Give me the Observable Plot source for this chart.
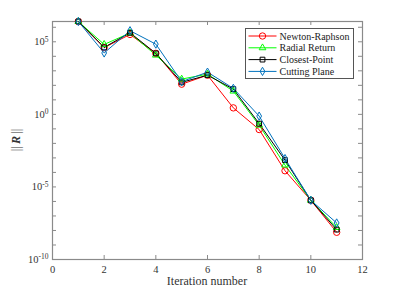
<!DOCTYPE html>
<html><head><meta charset="utf-8">
<script src="https://cdn.jsdelivr.net/npm/d3@7"></script>
<script src="https://cdn.jsdelivr.net/npm/@observablehq/plot@0.6"></script>
<style>body{margin:0;background:#fff;} #chart svg{display:block;}</style>
</head><body><div id="chart"></div>
<script>
const iterations = [1, 2, 3, 4, 5, 6, 7, 8, 9, 10, 11];
const newtonRaphson = [2.5e6, 4.0e4, 3.2e5, 1.6e4, 1.2e2, 5.0e2, 2.8, 9.0e-2, 1.3e-4, 1.2e-6, 7.5e-9];
const radialReturn  = [2.5e6, 6.6e4, 4.0e5, 1.2e4, 2.7e2, 5.9e2, 40, 1.8e-1, 3.2e-4, 1.2e-6, 1.6e-8];
const closestPoint  = [2.5e6, 4.1e4, 4.2e5, 1.6e4, 1.6e2, 5.0e2, 55, 2.3e-1, 7.0e-4, 1.2e-6, 1.15e-8];
const cuttingPlane  = [2.5e6, 1.7e4, 5.8e5, 6.9e4, 1.8e2, 8.1e2, 62, 7.6e-1, 9.0e-4, 1.2e-6, 3.3e-8];

const seriesNames = ["Newton-Raphson", "Radial Return", "Closest-Point", "Cutting Plane"];
const seriesValues = [newtonRaphson, radialReturn, closestPoint, cuttingPlane];
const seriesColors = ["#ff0000", "#00ff00", "#000000", "#0072bd"];
const seriesSymbols = ["circle", "triangle", "square", "diamond"];
const seriesRadius = [3.2, 2.5, 2.7, 2.5];

const xTicks = [0, 2, 4, 6, 8, 10, 12];
const yMajorExponents = [-10, -5, 0, 5];
const yMinorExponents = [-10, -9, -8, -7, -6, -5, -4, -3, -2, -1, 0, 1, 2, 3, 4, 5, 6];
const xDomain = [0, 12];
const yDomain = [1e-10, 2.5e6];

const W = 399, H = 291, mL = 52, mR = 37, mT = 21, mB = 32;
const pw = W - mL - mR, ph = H - mT - mB;
const axisColor = "#8a8a8a";
const FONT = "'Liberation Serif', 'Times New Roman', serif";

const rows = [];
seriesNames.forEach((name, s) => {
  iterations.forEach((it, i) => rows.push({series: name, s, x: it, y: seriesValues[s][i]}));
});

const yMajor = yMajorExponents.map(e => ({v: Math.pow(10, e), e}));
const yMinor = yMinorExponents.map(e => Math.pow(10, e));

const marks = [
  Plot.frame({stroke: axisColor, strokeWidth: 1.2}),
  Plot.ruleX(xTicks, {x: d => d, insetTop: ph - 4, stroke: axisColor}),
  Plot.ruleX(xTicks, {x: d => d, insetBottom: ph - 4, stroke: axisColor}),
  Plot.ruleY(yMinor, {y: d => d, insetRight: pw - 4, stroke: axisColor}),
  Plot.ruleY(yMinor, {y: d => d, insetLeft: pw - 4, stroke: axisColor}),
  Plot.axisX({ticks: xTicks, tickSize: 0, tickPadding: 6, label: null, fontSize: 10.5, tickFormat: d => String(d)}),
  Plot.text(yMajor, {y: "v", frameAnchor: "left", text: d => "10^" + d.e, textAnchor: "end", dx: -4, fontSize: 10.5})
];
seriesNames.forEach((name, s) => {
  const data = rows.filter(r => r.s === s);
  marks.push(Plot.line(data, {x: "x", y: "y", stroke: seriesColors[s], strokeWidth: 1}));
});
seriesNames.forEach((name, s) => {
  const data = rows.filter(r => r.s === s);
  marks.push(Plot.dot(data, {x: "x", y: "y", stroke: seriesColors[s], fill: "none", symbol: () => seriesSymbols[s], r: seriesRadius[s], strokeWidth: 1}));
});

const chart = Plot.plot({
  width: W, height: H,
  marginLeft: mL, marginRight: mR, marginTop: mT, marginBottom: mB,
  style: {fontFamily: FONT, fontSize: "10px", color: "#333", background: "#fff"},
  x: {domain: xDomain, axis: null},
  y: {type: "log", domain: yDomain, axis: null},
  symbol: {type: "identity"},
  marks
});

const svg = d3.select(chart);
// superscript tick labels
svg.selectAll("text").filter(function() { return this.textContent.includes("^"); }).each(function() {
  const t = d3.select(this);
  const [base, exp] = t.text().split("^");
  t.text("");
  t.append("tspan").text(base);
  t.append("tspan").attr("dy", "-3.5").attr("font-size", "7.5px").text(exp);
});
svg.selectAll("text").attr("fill", "#333");

// y label
const yl = svg.append("text")
  .attr("transform", `translate(16,${mT + ph / 2}) rotate(-90)`)
  .attr("text-anchor", "middle").attr("dy", "0.35em")
  .attr("font-family", FONT).attr("font-size", "12px").attr("fill", "#333");
yl.append("tspan").text("||\u2009");
yl.append("tspan").attr("font-weight", "bold").attr("font-style", "italic").text("R");
yl.append("tspan").text("\u2009||");

// x label
svg.append("text")
  .attr("x", mL + pw / 2).attr("y", 285)
  .attr("text-anchor", "middle")
  .attr("font-family", FONT).attr("font-size", "12px").attr("fill", "#333")
  .text("Iteration number");

// legend
const lg = svg.append("g").attr("transform", "translate(245.5,28.5)");
lg.append("rect").attr("width", 108).attr("height", 50).attr("fill", "#fff").attr("stroke", "#555").attr("stroke-width", 1);
seriesNames.forEach((name, s) => {
  const cy = 7.5 + s * 11.8;
  lg.append("line").attr("x1", 3).attr("x2", 31).attr("y1", cy).attr("y2", cy)
    .attr("stroke", seriesColors[s]).attr("stroke-width", 1);
  const sym = {circle: d3.symbolCircle, triangle: d3.symbolTriangle, square: d3.symbolSquare, diamond: d3.symbolDiamond}[seriesSymbols[s]];
  lg.append("path").attr("d", d3.symbol(sym, Math.PI * seriesRadius[s] * seriesRadius[s])())
    .attr("transform", `translate(17,${cy})`).attr("fill", "none").attr("stroke", seriesColors[s]).attr("stroke-width", 1);
  lg.append("text").attr("x", 34).attr("y", cy).attr("dy", "0.35em").attr("text-anchor", "start")
    .attr("font-family", FONT).attr("font-size", "10px").attr("fill", "#222").text(name);
});

document.getElementById("chart").appendChild(chart);
</script>
</body></html>
